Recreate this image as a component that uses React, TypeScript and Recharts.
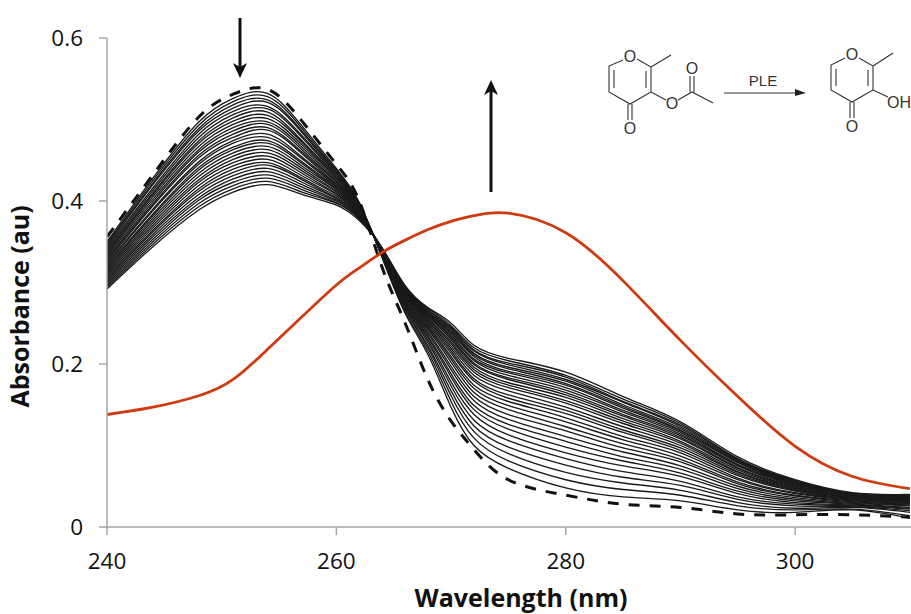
import React from "react";
import { LineChart, Line, XAxis, YAxis } from "recharts";

const wavelengths = [240, 244, 248, 251, 254, 257, 260, 262, 264, 266, 268, 270, 272, 275, 280, 285, 290, 295, 300, 305, 310];
const xTicks = [240, 260, 280, 300];
const yTicks = [0, 0.2, 0.4, 0.6];

const at240 = [.350,.348,.346,.344,.342,.340,.338,.336,.334,.332,.330,.328,.326,.324,.322,.320,.318,.316,.314,.312,.310,.308,.306,.304,.302,.300,.298,.296,.294,.292];
const at244 = [.428,.425,.422,.420,.416,.413,.410,.408,.405,.402,.399,.396,.394,.390,.388,.384,.382,.379,.376,.373,.370,.367,.364,.362,.359,.356,.353,.350,.347,.344];
const at248 = [.497,.493,.489,.486,.482,.478,.474,.471,.467,.463,.460,.456,.453,.448,.445,.441,.438,.434,.430,.426,.423,.419,.415,.412,.408,.404,.401,.397,.393,.389];
const at251 = [.526,.522,.518,.514,.510,.506,.502,.498,.494,.490,.486,.482,.478,.474,.471,.466,.463,.459,.455,.451,.447,.443,.439,.435,.431,.427,.423,.419,.415,.411];
const at254 = [.532,.528,.524,.521,.516,.513,.509,.505,.501,.497,.494,.490,.487,.482,.478,.474,.471,.467,.463,.459,.455,.451,.447,.444,.440,.436,.432,.428,.424,.420];
const at257 = [.492,.489,.486,.484,.480,.478,.474,.472,.469,.466,.463,.460,.458,.454,.452,.448,.446,.443,.440,.437,.434,.431,.428,.426,.423,.420,.417,.414,.411,.408];
const at260 = [.440,.438,.437,.435,.434,.432,.431,.429,.428,.426,.424,.423,.421,.420,.418,.417,.415,.414,.412,.411,.409,.408,.406,.404,.403,.401,.400,.398,.397,.395];
const at262 = [.398,.397,.397,.396,.395,.395,.394,.393,.393,.392,.391,.390,.390,.389,.388,.388,.387,.386,.385,.385,.384,.383,.383,.382,.381,.380,.380,.379,.378,.376];
const at264 = [.330,.331,.331,.332,.332,.333,.333,.334,.334,.335,.335,.336,.336,.337,.337,.338,.338,.339,.339,.339,.340,.340,.340,.341,.341,.341,.341,.342,.342,.342];
const at266 = [.262,.264,.267,.269,.271,.272,.274,.276,.277,.279,.280,.281,.283,.284,.285,.286,.287,.288,.289,.289,.290,.291,.291,.292,.293,.293,.294,.294,.295,.296];
const at268 = [.211,.215,.219,.222,.226,.229,.232,.234,.237,.239,.242,.244,.246,.248,.250,.252,.253,.255,.256,.258,.259,.260,.261,.262,.263,.264,.266,.266,.268,.269];
const at270 = [.147,.154,.161,.167,.173,.178,.184,.188,.193,.197,.202,.206,.209,.213,.216,.219,.222,.225,.227,.230,.232,.234,.236,.238,.240,.242,.244,.245,.247,.250];
const at272 = [.100,.109,.117,.124,.131,.138,.144,.149,.155,.160,.165,.170,.174,.179,.182,.186,.190,.193,.196,.199,.201,.204,.206,.209,.211,.213,.216,.217,.220,.223];
const at275 = [.072,.081,.090,.098,.106,.113,.120,.126,.132,.138,.144,.149,.154,.158,.162,.167,.171,.174,.177,.181,.183,.186,.189,.191,.194,.196,.199,.201,.204,.207];
const at280 = [.048,.058,.067,.076,.084,.091,.098,.105,.111,.118,.123,.129,.134,.139,.143,.147,.152,.155,.159,.162,.165,.168,.171,.174,.176,.179,.181,.184,.186,.190];
const at285 = [.037,.046,.054,.061,.068,.075,.081,.086,.092,.097,.102,.107,.111,.116,.119,.123,.127,.130,.133,.136,.138,.141,.143,.146,.148,.150,.153,.154,.157,.160];
const at290 = [.032,.039,.045,.051,.056,.062,.066,.071,.075,.080,.083,.087,.091,.094,.097,.100,.103,.105,.108,.110,.112,.114,.116,.118,.119,.121,.123,.125,.127,.129];
const at295 = [.021,.026,.030,.034,.037,.041,.044,.047,.050,.053,.055,.058,.060,.063,.065,.067,.068,.070,.072,.073,.075,.076,.077,.079,.080,.081,.082,.083,.084,.086];
const at300 = [.018,.021,.023,.026,.028,.030,.032,.034,.036,.038,.039,.041,.042,.044,.045,.046,.047,.048,.049,.050,.051,.052,.053,.053,.054,.055,.056,.056,.057,.058];
const at305 = [.021,.022,.024,.025,.026,.027,.028,.029,.030,.031,.032,.033,.034,.034,.035,.036,.036,.037,.037,.038,.038,.039,.039,.040,.040,.040,.041,.041,.041,.042];
const at310 = [.011,.014,.018,.020,.022,.023,.024,.026,.027,.028,.029,.030,.031,.032,.033,.033,.034,.034,.035,.035,.036,.036,.037,.037,.038,.038,.038,.039,.039,.040];
const spectra = [at240, at244, at248, at251, at254, at257, at260, at262, at264, at266, at268, at270, at272, at275, at280, at285, at290, at295, at300, at305, at310];

const startTrace = [.356,.432,.503,.531,.537,.498,.445,.400,.318,.250,.180,.130,.095,.058,.039,.028,.024,.016,.015,.015,.012];
const productTrace = [.138,.147,.161,.181,.218,.258,.297,.318,.337,.352,.365,.375,.382,.385,.361,.302,.229,.160,.099,.062,.047];

const table = wavelengths.map((w, k) => {
  const row: Record<string, number> = { w, start: startTrace[k], product: productTrace[k] };
  spectra[k].forEach((v, i) => { row["t" + i] = v; });
  return row;
});
const traceKeys = at240.map((_, i) => "t" + i);

const FONT = '"Open Sans", sans-serif';
const AXIS = "#a6a6a6";
const INK = "#333";

function Bonds({ d }: { d: string }) {
  return <path d={d} fill="none" stroke={INK} strokeWidth={1.1} />;
}
function Atom({ x, y, t }: { x: number; y: number; t: string }) {
  return <text x={x} y={y} textAnchor="middle" dominantBaseline="central" fontFamily='"Liberation Sans", sans-serif' fontSize={16} fill={INK}>{t}</text>;
}

function Overlay() {
  return (
    <svg width={911} height={614} style={{ position: "absolute", left: 0, top: 0, pointerEvents: "none" }}>
      <path d="M240 18V68" stroke="#111" strokeWidth={3} fill="none" />
      <path d="M233 63L240 78L247 63L240 67Z" fill="#111" />
      <path d="M491 192V90" stroke="#111" strokeWidth={3} fill="none" />
      <path d="M484 95L491 80L498 95L491 91Z" fill="#111" />
      <Bonds d="M623 60L609 66V92L630 104L651 92V67L637 59M651 67L671 55M614 70V88M646 71V88M628 104V120M632 104V120M651 92L666 100M678 100L692 92L713 103M690 92V76M694 92V76" />
      <Atom x={630} y={56} t="O" />
      <Atom x={630} y={128} t="O" />
      <Atom x={672} y={103} t="O" />
      <Atom x={692} y={68} t="O" />
      <path d="M724 93H800" stroke={INK} strokeWidth={1.1} fill="none" />
      <path d="M795 89L806 93L795 96Z" fill="#222" />
      <text x={763} y={86} textAnchor="middle" fontFamily='"Liberation Sans", sans-serif' fontSize={15} fill={INK}>PLE</text>
      <Bonds d="M845 58L831 65V90L852 102L873 90V66L859 58M873 66L893 53M836 69V86M868 70V86M850 102V118M854 102V118M873 90L888 97" />
      <Atom x={852} y={54} t="O" />
      <Atom x={852} y={126} t="O" />
      <Atom x={899} y={102} t="OH" />
    </svg>
  );
}

export default function App() {
  return (
    <div style={{ position: "absolute", left: 0, top: 0, width: 911, height: 614, background: "#fff" }}>
      <LineChart width={911} height={614} data={table} margin={{ top: 38, right: 0, bottom: 0, left: 0 }}>
        <XAxis
          dataKey="w"
          type="number"
          domain={[240, 310.1]}
          ticks={xTicks}
          tickLine={{ stroke: AXIS, strokeWidth: 1.5 }}
          axisLine={{ stroke: AXIS, strokeWidth: 1.5 }}
          tickSize={8}
          tickMargin={18}
          height={87}
          allowDataOverflow
          tick={{ fontFamily: FONT, fontSize: 22.5, fill: "#111" }}
          label={{ value: "Wavelength (nm)", position: "insideBottom", offset: 7, dx: 12, style: { fontFamily: FONT, fontSize: 25, fontWeight: 700, fill: "#111" } }}
        />
        <YAxis
          type="number"
          domain={[0, 0.6]}
          ticks={yTicks}
          width={107}
          tickLine={{ stroke: AXIS, strokeWidth: 1.5 }}
          axisLine={{ stroke: AXIS, strokeWidth: 1.5 }}
          tickSize={8}
          tickMargin={16}
          tickFormatter={(v: number) => (v === 0 ? "0" : v.toFixed(1))}
          tick={{ fontFamily: FONT, fontSize: 22.5, fill: "#111" }}
          label={{ value: "Absorbance (au)", angle: -90, position: "insideLeft", offset: 20, dy: 125, style: { fontFamily: FONT, fontSize: 25, fontWeight: 700, fill: "#111" } }}
        />
        {traceKeys.map((k) => (
          <Line key={k} dataKey={k} type="natural" stroke="#1a1a1a" strokeWidth={1.35} dot={false} isAnimationActive={false} />
        ))}
        <Line dataKey="start" type="natural" stroke="#111" strokeWidth={3} strokeDasharray="11 10" dot={false} isAnimationActive={false} />
        <Line dataKey="product" type="natural" stroke="#d03a10" strokeWidth={2.8} dot={false} isAnimationActive={false} />
      </LineChart>
      <Overlay />
    </div>
  );
}
